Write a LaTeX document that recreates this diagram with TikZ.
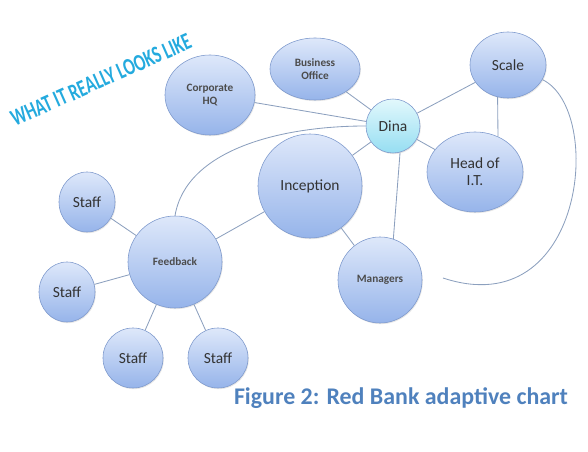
\documentclass[tikz,border=0pt]{standalone}
\usepackage{fontspec}
\setmainfont{Carlito}
\usepackage{tikz}
\usetikzlibrary{positioning,shapes.geometric,shadows}
\definecolor{bubbletop}{RGB}{222,232,250}
\definecolor{bubblebot}{RGB}{150,180,234}
\definecolor{bubbleline}{RGB}{124,152,204}
\definecolor{dinatop}{RGB}{226,248,252}
\definecolor{dinabot}{RGB}{150,222,242}
\definecolor{linkgrey}{RGB}{140,160,190}
\definecolor{wordart}{RGB}{36,170,222}
\definecolor{captionblue}{RGB}{79,129,189}

\begin{document}
\begin{tikzpicture}[x=0.025cm, y=-0.025cm,
  bubble/.style={ellipse, draw=bubbleline, thin, top color=bubbletop, bottom color=bubblebot,
                 drop shadow={opacity=0.2, shadow xshift=0.6pt, shadow yshift=-0.8pt},
                 inner sep=0pt, align=center, text=black!80, font=\fontsize{11}{12}\selectfont},
  small/.style={font=\fontsize{8}{9.5}\selectfont\bfseries, text=black!70},
  hub/.style={bubble, top color=dinatop, bottom color=dinabot},
  link/.style={draw=linkgrey, line width=0.6pt}
]
\useasboundingbox (0,0) rectangle (588,452);

% heading
\node[rotate=24, text=wordart, inner sep=0pt, font=\fontsize{17}{17}\selectfont\bfseries] (head) at (101,80)
  {\scalebox{0.7}[1]{WHAT IT REALLY LOOKS LIKE}};

% centre and top row
\node[hub, minimum width=1.35cm, minimum height=1.35cm] (dina) at (393,126) {Dina};
\node[bubble, small, minimum width=2.25cm, minimum height=2.0cm] (hq) at (210,95) {Corporate\\HQ};
\node[bubble, small, minimum width=2.25cm, minimum height=1.55cm] (office) at (315,69) {Business\\Office};
\node[bubble, minimum width=1.9cm, minimum height=1.65cm] (scale) at (508,65) {Scale};
\node[bubble, minimum width=2.4cm, minimum height=2.0cm] (it) at (475,172) {Head of\\I.T.};
\node[bubble, minimum width=2.6cm, minimum height=2.6cm] (inception) at (310,186) {Inception};
\node[bubble, small, minimum width=2.1cm, minimum height=2.15cm] (managers) at (380,280) {Managers};

% feedback group
\node[bubble, small, minimum width=2.35cm, minimum height=2.3cm] (feedback) at (175,262) {Feedback};
\node[bubble, minimum width=1.4cm, minimum height=1.5cm] (staffa) at (87,202) {Staff};
\node[bubble, minimum width=1.4cm, minimum height=1.5cm] (staffb) at (67,292) {Staff};
\node[bubble, minimum width=1.5cm, minimum height=1.5cm] (staffc) at (133,358) {Staff};
\node[bubble, minimum width=1.5cm, minimum height=1.5cm] (staffd) at (218,358) {Staff};

\coordinate (loopend) at (443,278);

% links
\draw[link] (hq) -- (dina);
\draw[link] (office) -- (dina);
\draw[link] (dina) -- (scale);
\draw[link] (dina) -- (it);
\draw[link] (scale.252) -- (it.57);
\draw[link] (dina) -- (inception);
\draw[link] (dina.-75) -- (managers.72);
\draw[link] (inception) -- (managers);
\draw[link] (feedback) -- (inception);
\draw[link] (feedback.north) .. controls (186,150) and (280,126) .. (dina.west);
\draw[link] (scale.-23) .. controls (605,110) and (585,325) .. (loopend);
\draw[link] (feedback) -- (staffa);
\draw[link] (feedback) -- (staffb);
\draw[link] (feedback) -- (staffc);
\draw[link] (feedback) -- (staffd);

% caption
\node[text=captionblue, font=\fontsize{17}{18}\selectfont\bfseries] (caption) at (401,398)
  {Figure 2: Red Bank adaptive chart};
\end{tikzpicture}
\end{document}
